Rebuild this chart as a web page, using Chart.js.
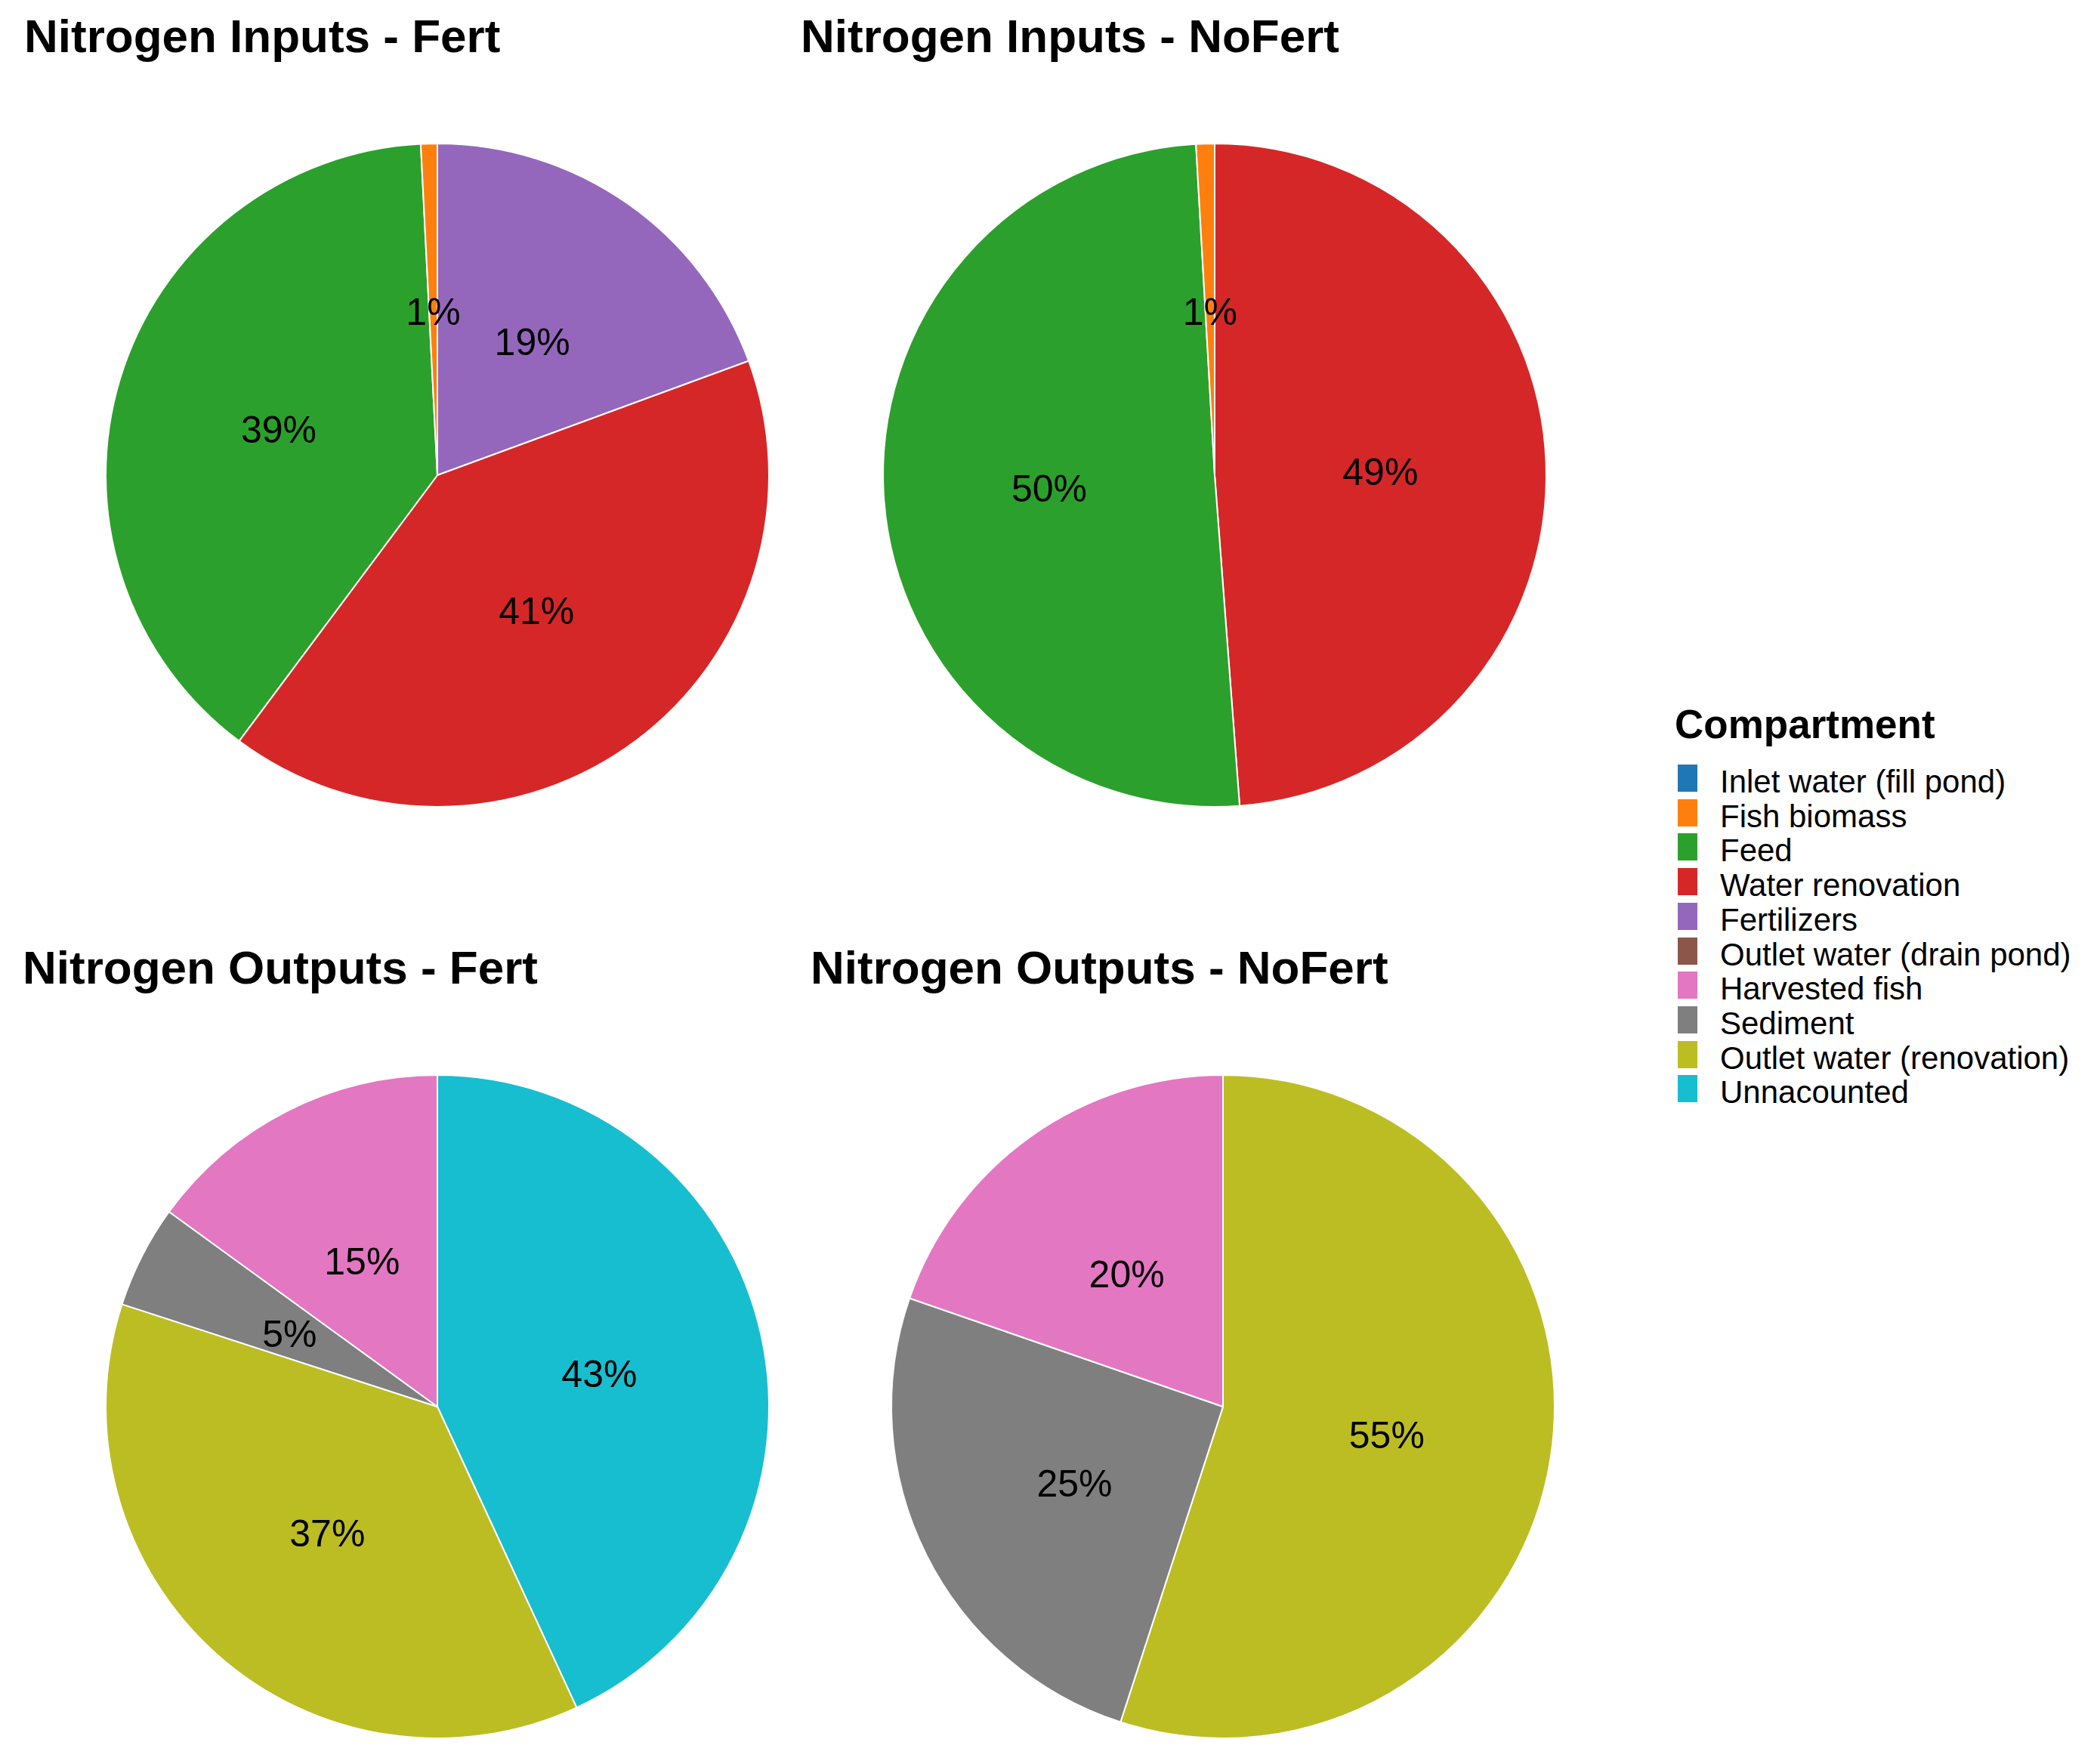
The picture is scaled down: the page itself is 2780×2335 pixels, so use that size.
<!DOCTYPE html>
<html>
<head>
<meta charset="utf-8">
<title>Nitrogen budget</title>
<script src="https://cdn.jsdelivr.net/npm/chart.js@4.4.1/dist/chart.umd.min.js"></script>
<style>
    body {
        margin: 0;
        width: 2780px;
        height: 2335px;
        position: relative;
        overflow: hidden;
        background: #fff;
        font-family: "Liberation Sans", Arial, sans-serif;
        color: #000;
    }
    .title {
        position: absolute;
        font-weight: bold;
        font-size: 62px;
        line-height: 1;
        white-space: nowrap;
    }
    .pie { position: absolute; width: 900px; height: 900px; }
    #legend-title {
        position: absolute;
        left: 2217px;
        top: 932px;
        font-weight: bold;
        font-size: 53px;
        line-height: 1;
        white-space: nowrap;
    }
    .legend-row { position: absolute; left: 2221px; height: 36px; }
    .legend-key { position: absolute; left: 0; top: 0; width: 26px; height: 36px; }
    .legend-text {
        position: absolute;
        left: 56px;
        top: 5px;
        font-size: 42px;
        line-height: 36px;
        white-space: nowrap;
    }
</style>
</head>
<body>

<div class="title" style="left:32px; top:17px;">Nitrogen Inputs - Fert</div>
<div class="title" style="left:1060px; top:17px;">Nitrogen Inputs - NoFert</div>
<div class="title" style="left:30px; top:1250px;">Nitrogen Outputs - Fert</div>
<div class="title" style="left:1073px; top:1250px;">Nitrogen Outputs - NoFert</div>

<div class="pie" style="left:129px; top:179px;"><canvas id="in-fert"></canvas></div>
<div class="pie" style="left:1158px; top:179px;"><canvas id="in-nofert"></canvas></div>
<div class="pie" style="left:129px; top:1412px;"><canvas id="out-fert"></canvas></div>
<div class="pie" style="left:1169px; top:1412px;"><canvas id="out-nofert"></canvas></div>

<div id="legend-title">Compartment</div>
<div id="legend"></div>

<script>
// Compartments, in legend order
const compartments = [
    'Inlet water (fill pond)',
    'Fish biomass',
    'Feed',
    'Water renovation',
    'Fertilizers',
    'Outlet water (drain pond)',
    'Harvested fish',
    'Sediment',
    'Outlet water (renovation)',
    'Unnacounted'
];
const compartmentColors = [
    '#1f77b4', '#ff7f0e', '#2ca02c', '#d62728', '#9467bd',
    '#8c564b', '#e377c2', '#7f7f7f', '#bcbd22', '#17becf'
];

// Share of nitrogen (%) per compartment, same order as above
const inputsFert    = [0, 0.8, 39.0, 40.8, 19.4, 0, 0, 0, 0, 0];
const inputsNoFert  = [0, 0.9, 50.3, 48.8, 0, 0, 0, 0, 0, 0];
const outputsFert   = [0, 0, 0, 0, 0, 0, 15.0, 5.0, 36.9, 43.1];
const outputsNoFert = [0, 0, 0, 0, 0, 0, 19.7, 25.3, 55.0, 0];

// Percent labels in the middle of each slice
const pctLabels = {
    id: 'pctLabels',
    afterDatasetsDraw(chart) {
        const ctx = chart.ctx;
        const data = chart.data.datasets[0].data;
        const total = data.reduce((a, b) => a + b, 0);
        ctx.save();
        ctx.font = '50px "Liberation Sans", Arial, sans-serif';
        ctx.fillStyle = '#000';
        ctx.textAlign = 'center';
        ctx.textBaseline = 'middle';
        chart.getDatasetMeta(0).data.forEach((arc, i) => {
            const { x, y } = arc.getCenterPoint();
            ctx.fillText(Math.round(data[i] / total * 100) + '%', x, y + 7);
        });
        ctx.restore();
    }
};

function makePie(canvasId, values) {
    // ggplot stacks the last level first, going clockwise from 12 o'clock
    const labels = [], data = [], colors = [];
    for (let i = compartments.length - 1; i >= 0; i--) {
        if (values[i] > 0) {
            labels.push(compartments[i]);
            data.push(values[i]);
            colors.push(compartmentColors[i]);
        }
    }
    return new Chart(document.getElementById(canvasId), {
        type: 'pie',
        data: {
            labels: labels,
            datasets: [{ data: data, backgroundColor: colors, borderColor: '#ffffff', borderWidth: 2 }]
        },
        options: {
            responsive: true,
            maintainAspectRatio: false,
            animation: false,
            events: [],
            radius: 439,
            layout: { padding: 0 },
            plugins: { legend: { display: false }, tooltip: { enabled: false } }
        },
        plugins: [pctLabels]
    });
}

makePie('in-fert', inputsFert);
makePie('in-nofert', inputsNoFert);
makePie('out-fert', outputsFert);
makePie('out-nofert', outputsNoFert);

// Shared legend
const legendEl = document.getElementById('legend');
compartments.forEach((name, i) => {
    const row = document.createElement('div');
    row.className = 'legend-row';
    row.style.top = (1012 + i * 45.7) + 'px';
    const key = document.createElement('div');
    key.className = 'legend-key';
    key.style.background = compartmentColors[i];
    const text = document.createElement('div');
    text.className = 'legend-text';
    text.textContent = name;
    row.appendChild(key);
    row.appendChild(text);
    legendEl.appendChild(row);
});
</script>
</body>
</html>
